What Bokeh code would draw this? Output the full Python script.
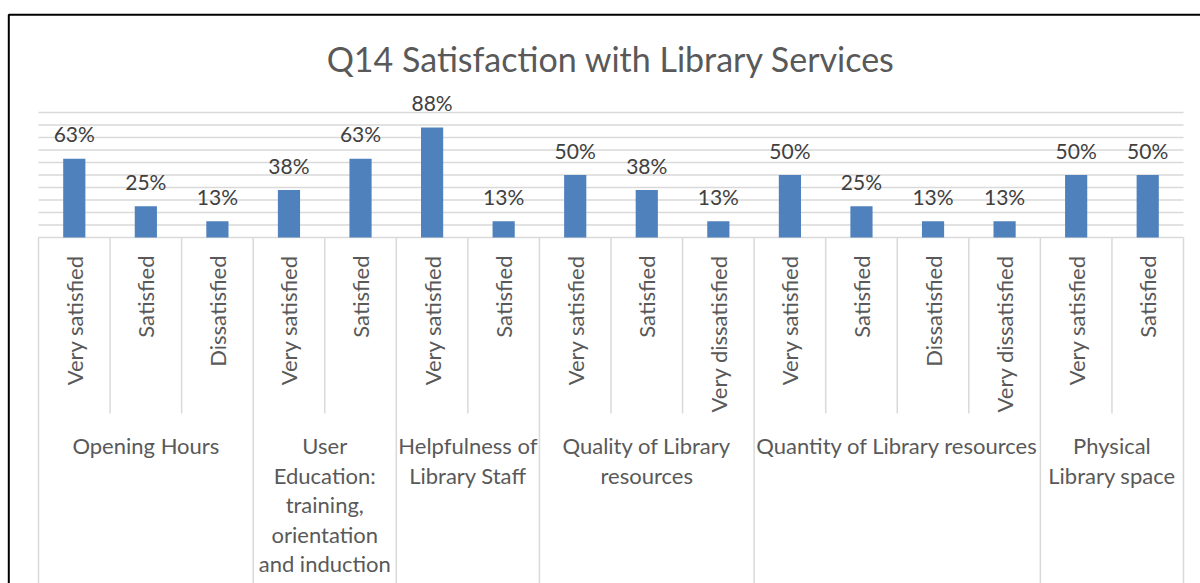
import math
from bokeh.plotting import figure
from bokeh.models import Range1d, ColumnDataSource
from bokeh.core.properties import value
from bokeh.embed import file_html
from bokeh.resources import INLINE

# ---------------- data ----------------
title_text = "Q14 Satisfaction with Library Services"
group_labels = [
    "Opening Hours",
    "User\nEducation:\ntraining,\norientation\nand induction",
    "Helpfulness of\nLibrary Staff",
    "Quality of Library\nresources",
    "Quantity of Library resources",
    "Physical\nLibrary space",
]
group_sizes = [3, 2, 2, 3, 4, 2]
sub_labels = [
    "Very satisfied", "Satisfied", "Dissatisfied",
    "Very satisfied", "Satisfied",
    "Very satisfied", "Satisfied",
    "Very satisfied", "Satisfied", "Very dissatisfied",
    "Very satisfied", "Satisfied", "Dissatisfied", "Very dissatisfied",
    "Very satisfied", "Satisfied",
]
values = [0.63, 0.25, 0.13, 0.38, 0.63, 0.88, 0.13, 0.50, 0.38, 0.13,
          0.50, 0.25, 0.13, 0.13, 0.50, 0.50]
grid_ticks = [0.1, 0.2, 0.3, 0.4, 0.5, 0.6, 0.7, 0.8, 0.9, 1.0]

# ---------------- layout ----------------
W, H = 1200, 583
X0, UX = 38.0, 71.5625     # screen x of category 0 left edge, px per category
Y0, UY = 237.0, 125.0      # screen y of value 0, px per 1.0

def xd(px):
    return (px - X0) / UX

def yd(py):
    return (Y0 - py) / UY

FONT = "Lato"
AXIS_COL = "#595959"
LABEL_COL = "#404040"
GRID_COL = "#D9D9D9"
BAR_COL = "#4F81BD"

p = figure(width=W, height=H, output_backend="svg", toolbar_location=None,
           x_range=Range1d(xd(0), xd(W)),
           y_range=Range1d(yd(H), yd(0)),
           x_axis_location=None, y_axis_location=None, min_border=0)
p.grid.visible = False
p.outline_line_color = None
p.background_fill_color = "white"
p.border_fill_color = "white"

n = len(values)
xs = [i + 0.5 for i in range(n)]

# gridlines
p.segment(x0=[0] * len(grid_ticks), x1=[n] * len(grid_ticks), y0=grid_ticks, y1=grid_ticks,
          line_color=GRID_COL, line_width=1.3)
# baseline
p.segment(x0=[0], x1=[n], y0=[0], y1=[0], line_color=GRID_COL, line_width=1.5)

# bars
src = ColumnDataSource(dict(x=xs, top=values,
                            lab=[f"{round(v * 100)}%" for v in values],
                            ly=[v + 25 / UY for v in values],
                            sub=sub_labels))
p.vbar(x="x", top="top", bottom=0, width=0.31, source=src, fill_color=BAR_COL, line_color=None)

# data labels
p.text(x="x", y="ly", text="lab", source=src, text_align="center", text_baseline="middle",
       text_font=value(FONT), text_font_size="21px", text_color=LABEL_COL)

# category separators
bounds = [0]
for s in group_sizes:
    bounds.append(bounds[-1] + s)
inner = [i for i in range(n + 1) if i not in bounds]
p.segment(x0=inner, x1=inner, y0=[0] * len(inner), y1=[yd(413)] * len(inner),
          line_color=GRID_COL, line_width=1.5)
p.segment(x0=bounds, x1=bounds, y0=[0] * len(bounds), y1=[yd(H + 20)] * len(bounds),
          line_color=GRID_COL, line_width=1.5)

# sub labels (rotated)
p.text(x="x", y=yd(255), text="sub", source=src, angle=math.pi / 2,
       text_align="right", text_baseline="middle",
       text_font=value(FONT), text_font_size="22px", text_color=AXIS_COL)

# group labels
gx, gy, gt = [], [], []
for k, lab in enumerate(group_labels):
    cx = (bounds[k] + bounds[k + 1]) / 2
    for j, line in enumerate(lab.split("\n")):
        gx.append(cx)
        gy.append(yd(445 + j * 29.5))
        gt.append(line)
p.text(x=gx, y=gy, text=gt, text_align="center", text_baseline="middle",
       text_font=value(FONT), text_font_size="22px", text_color=AXIS_COL)

# title
p.text(x=[n / 2], y=[yd(58)], text=[title_text], text_align="center", text_baseline="middle",
       text_font=value(FONT), text_font_size="34px", text_color=AXIS_COL)

# outer chart frame
p.line(x=[xd(8.3), xd(8.3), xd(W + 20)], y=[yd(H + 20), yd(14.3), yd(14.3)],
       line_color="black", line_width=2)

open("out.html", "w").write(file_html(p, INLINE))
